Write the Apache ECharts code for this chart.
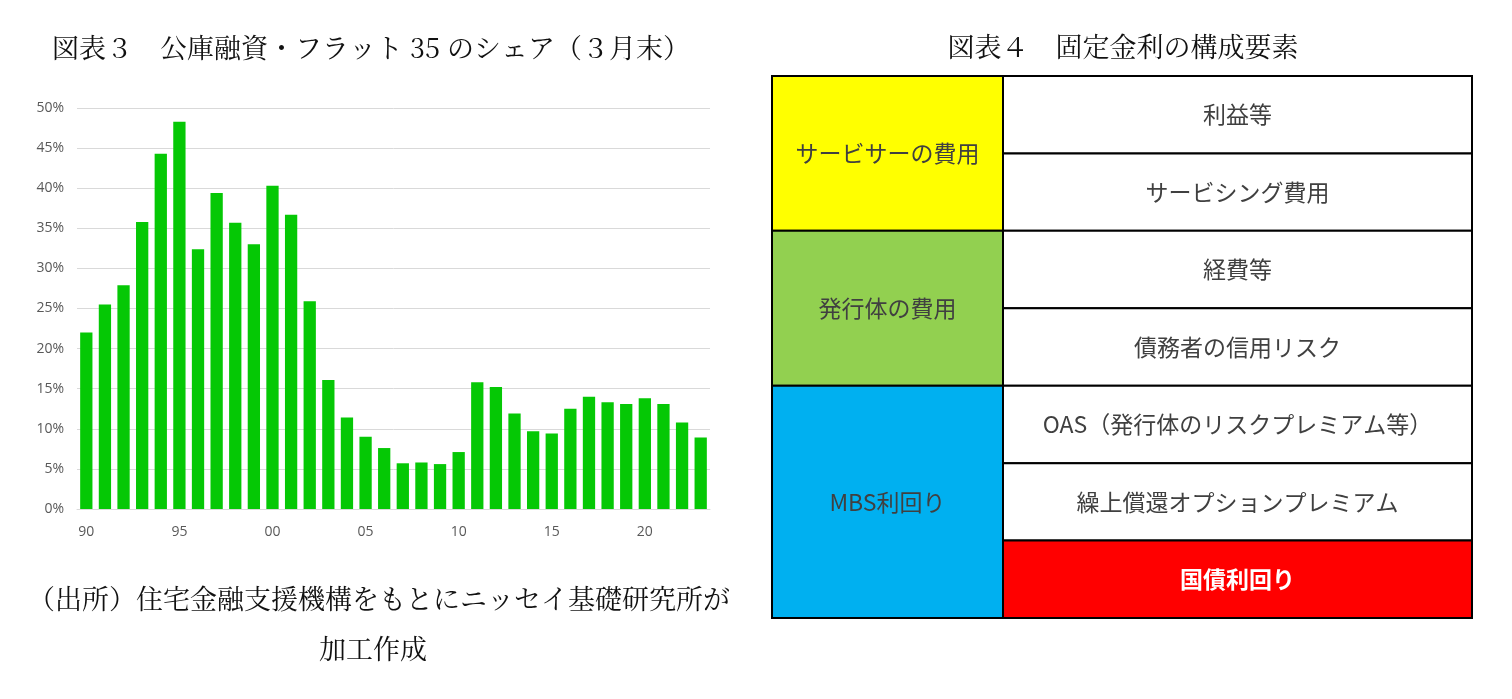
<!DOCTYPE html>
<html>
<head>
<meta charset="utf-8">
<script src="https://cdn.jsdelivr.net/npm/echarts@6/dist/echarts.min.js"></script>
<style>
  html, body { margin: 0; padding: 0; background: #fff; }
  #chart { width: 1512px; height: 699px; }
</style>
</head>
<body>
<div id="chart"></div>
<script>
/* ── data: 図表3 ── */
const years = ["90","91","92","93","94","95","96","97","98","99","00","01","02","03","04","05","06","07","08","09","10","11","12","13","14","15","16","17","18","19","20","21","22","23"];
const shares = [22.0, 25.5, 27.9, 35.8, 44.3, 48.3, 32.4, 39.4, 35.7, 33.0, 40.3, 36.7, 25.9, 16.1, 11.4, 9.0, 7.6, 5.7, 5.8, 5.6, 7.1, 15.8, 15.2, 11.9, 9.7, 9.4, 12.5, 14.0, 13.3, 13.1, 13.8, 13.1, 10.8, 8.9];

/* ── data: 図表4 ── */
const leftGroups = ["サービサーの費用", "発行体の費用", "MBS利回り"];
const leftSpans = [2, 2, 3];
const leftColors = ["#ffff00", "#92d050", "#00b0f0"];
const rightItems = ["利益等", "サービシング費用", "経費等", "債務者の信用リスク", "OAS（発行体のリスクプレミアム等）", "繰上償還オプションプレミアム", "国債利回り"];
const rightColors = ["#ffffff", "#ffffff", "#ffffff", "#ffffff", "#ffffff", "#ffffff", "#ff0000"];
const rightTextColors = ["#404040", "#404040", "#404040", "#404040", "#404040", "#404040", "#ffffff"];

/* ── constants ── */
const GREEN = "#05c805";
const LABEL = "#595959";
const CJK = "'Noto Sans CJK JP', sans-serif";
const SERIF = "'Noto Serif CJK JP', 'Noto Sans CJK JP', serif";
const SPLIT = 0.33; // left column share of table width

const chart = echarts.init(document.getElementById("chart"));

/* table cells: [x0, x1, y0, y1, text, fill, textColor, bold] */
const cells = [];
let row = 0;
leftGroups.forEach((name, i) => {
  cells.push([0, SPLIT, row, row + leftSpans[i], name, leftColors[i], "#404040", 0]);
  row += leftSpans[i];
});
rightItems.forEach((name, i) => {
  cells.push([SPLIT, 1, i, i + 1, name, rightColors[i], rightTextColors[i], rightColors[i] !== "#ffffff" ? 1 : 0]);
});

function renderCell(params, api) {
  const c = cells[params.dataIndex];
  const p0 = api.coord([c[0], c[2]]);
  const p1 = api.coord([c[1], c[3]]);
  return {
    type: "rect",
    shape: { x: p0[0], y: p0[1], width: p1[0] - p0[0], height: p1[1] - p0[1] },
    style: { fill: c[5], stroke: "#000", lineWidth: 2 },
    textContent: {
      type: "text",
      style: {
        text: c[4], fill: c[6], fontFamily: CJK,
        fontSize: c[7] ? 23 : 23, fontWeight: c[7] ? "bold" : "normal",
      },
    },
    textConfig: { position: "inside" },
  };
}

chart.setOption({
  animation: false,
  graphic: [
    { type: "text", x: 371, y: 48, style: { text: "図表３　公庫融資・フラット 35 のシェア（３月末）", font: "27px " + SERIF, fill: "#111", align: "center", verticalAlign: "middle" } },
    { type: "text", x: 1123, y: 47, style: { text: "図表４　固定金利の構成要素", font: "27px " + SERIF, fill: "#111", align: "center", verticalAlign: "middle" } },
    { type: "text", x: 379, y: 599, style: { text: "（出所）住宅金融支援機構をもとにニッセイ基礎研究所が", font: "27px " + SERIF, fill: "#111", align: "center", verticalAlign: "middle" } },
    { type: "text", x: 373, y: 649, style: { text: "加工作成", font: "27px " + SERIF, fill: "#111", align: "center", verticalAlign: "middle" } },
  ],
  grid: [
    { left: 77, right: 802, top: 108, bottom: 190 },
    { left: 772, width: 700, top: 76, height: 542 },
  ],
  xAxis: [
    {
      type: "category", data: years, boundaryGap: true,
      axisLine: { lineStyle: { color: "#d9d9d9", width: 1 } },
      axisTick: { show: false },
      axisLabel: { interval: 4, color: LABEL, fontSize: 14, fontFamily: "'Open Sans', sans-serif", margin: 16 },
    },
    { type: "value", gridIndex: 1, min: 0, max: 1, show: false },
  ],
  yAxis: [
    {
      type: "value", min: 0, max: 50, interval: 5,
      axisLine: { show: false }, axisTick: { show: false },
      axisLabel: { formatter: "{value}%", color: LABEL, fontSize: 14, fontFamily: "'Open Sans', sans-serif", margin: 13 },
      splitLine: { lineStyle: { color: "#d9d9d9" } },
    },
    { type: "value", gridIndex: 1, min: 0, max: 7, inverse: true, show: false },
  ],
  series: [
    {
      type: "bar", data: shares, barCategoryGap: "34%",
      itemStyle: { color: GREEN },
    },
    {
      type: "custom", xAxisIndex: 1, yAxisIndex: 1,
      renderItem: renderCell,
      data: cells.map((c) => [c[0], c[2]]),
      clip: false,
    },
  ],
});
</script>
</body>
</html>
